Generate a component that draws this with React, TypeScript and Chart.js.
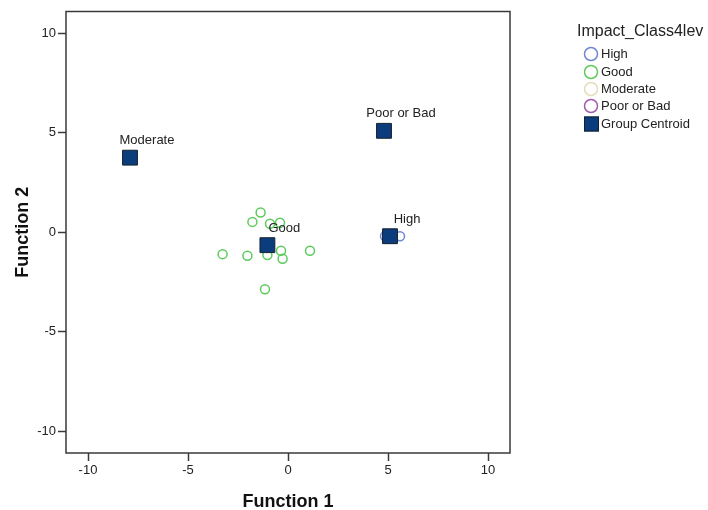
import React, { useEffect, useRef } from "react";
import { Chart, registerables } from "chart.js";

Chart.register(...registerables);

// Discriminant scores per group (Function 1, Function 2)
const highX = [4.85, 5.6];
const highY = [-0.2, -0.2];

const goodX = [-1.37, -1.78, -0.9, -0.4, -3.27, -2.03, -1.03, -0.35, -0.27, 1.1, -1.15];
const goodY = [0.99, 0.52, 0.43, 0.48, -1.1, -1.18, -1.15, -0.93, -1.33, -0.93, -2.87];

const moderateX = [-7.9];
const moderateY = [3.75];

const poorX = [4.8];
const poorY = [5.1];

// Group centroids
const centroidLabels = ["High", "Good", "Moderate", "Poor or Bad"];
const centroidX = [5.1, -1.03, -7.9, 4.8];
const centroidY = [-0.2, -0.65, 3.75, 5.1];

const tickValues = [-10, -5, 0, 5, 10];

const legendTitle = "Impact_Class4lev";
const legendItems = ["High", "Good", "Moderate", "Poor or Bad", "Group Centroid"];

const FONT = "'Liberation Sans', Arial, sans-serif";
const COLORS = {
  high: "#7085d4",
  good: "#5ccb5c",
  moderate: "#e4ddbb",
  poor: "#a35aaf",
  centroid: "#0b3d7c",
  centroidBorder: "#15202e",
  axis: "#3a3a3a",
  text: "#222222",
};

const toPoints = (xs: number[], ys: number[]) => xs.map((x, i) => ({ x, y: ys[i] }));

// Box around the plotting area
const framePlugin = {
  id: "frame",
  beforeDatasetsDraw(chart: any) {
    const { ctx, chartArea } = chart;
    ctx.save();
    ctx.strokeStyle = COLORS.axis;
    ctx.lineWidth = 1.5;
    ctx.strokeRect(chartArea.left, chartArea.top, chartArea.right - chartArea.left, chartArea.bottom - chartArea.top);
    ctx.restore();
  },
};

const centroidLabelPlugin = {
  id: "centroidLabels",
  afterDatasetsDraw(chart: any) {
    const { ctx } = chart;
    const meta = chart.getDatasetMeta(0);
    ctx.save();
    ctx.font = `13px ${FONT}`;
    ctx.fillStyle = COLORS.text;
    ctx.textAlign = "center";
    ctx.textBaseline = "middle";
    meta.data.forEach((el: any, i: number) => {
      ctx.fillText(centroidLabels[i], el.x + 17, el.y - 17);
    });
    ctx.restore();
  },
};

const legendPlugin = {
  id: "sideLegend",
  afterDraw(chart: any) {
    const { ctx } = chart;
    ctx.save();
    ctx.fillStyle = COLORS.text;
    ctx.textBaseline = "middle";
    ctx.textAlign = "left";
    ctx.font = `16px ${FONT}`;
    ctx.fillText(legendTitle, 577, 32);
    const ys = [54, 72, 89, 106, 124];
    const ringColors = [COLORS.high, COLORS.good, COLORS.moderate, COLORS.poor];
    ctx.font = `13px ${FONT}`;
    legendItems.forEach((label, i) => {
      const y = ys[i];
      if (i < 4) {
        ctx.beginPath();
        ctx.arc(591, y, 6.5, 0, Math.PI * 2);
        ctx.strokeStyle = ringColors[i];
        ctx.lineWidth = 1.5;
        ctx.stroke();
      } else {
        ctx.fillStyle = COLORS.centroid;
        ctx.fillRect(584, y - 7.5, 15, 15);
        ctx.strokeStyle = COLORS.centroidBorder;
        ctx.lineWidth = 1;
        ctx.strokeRect(584.5, y - 7, 14, 14);
      }
      ctx.fillStyle = COLORS.text;
      ctx.fillText(label, 601, y + 0.5);
    });
    ctx.restore();
  },
};

export default function App() {
  const canvasRef = useRef<HTMLCanvasElement | null>(null);

  useEffect(() => {
    if (!canvasRef.current) return;
    const ring = (color: string) => ({
      pointStyle: "circle" as const,
      pointRadius: 4.5,
      pointBorderWidth: 1.5,
      pointBorderColor: color,
      pointBackgroundColor: "rgba(0,0,0,0)",
      borderColor: color,
      backgroundColor: "rgba(0,0,0,0)",
    });

    const tickAxis = (title: string, isX: boolean) => ({
      type: "linear" as const,
      min: -11.1,
      max: 11.1,
      afterBuildTicks: (s: any) => {
        s.ticks = tickValues.map((v) => ({ value: v }));
      },
      afterFit: (s: any) => {
        if (isX) s.height = 57;
        else s.width = 66;
      },
      grid: {
        drawOnChartArea: false,
        drawTicks: true,
        tickLength: 8,
        tickColor: COLORS.axis,
        tickWidth: 1.5,
      },
      border: { display: false },
      ticks: {
        font: { family: FONT, size: 13 },
        color: COLORS.text,
        padding: 2,
      },
      title: {
        display: true,
        text: title,
        color: "#111111",
        font: { family: FONT, size: 18, weight: "bold" as const, lineHeight: 1 },
        padding: isX ? { top: 0, bottom: -1 } : { top: 14, bottom: 0 },
      },
    });

    const chart = new Chart(canvasRef.current, {
      type: "scatter",
      data: {
        datasets: [
          {
            label: "Group Centroid",
            data: toPoints(centroidX, centroidY),
            order: 0,
            pointStyle: "rect",
            pointRadius: 10.5,
            pointBorderWidth: 1,
            pointBackgroundColor: COLORS.centroid,
            pointBorderColor: COLORS.centroidBorder,
            backgroundColor: COLORS.centroid,
            borderColor: COLORS.centroidBorder,
          },
          { label: "High", data: toPoints(highX, highY), order: 1, ...ring(COLORS.high) },
          { label: "Good", data: toPoints(goodX, goodY), order: 2, ...ring(COLORS.good) },
          { label: "Moderate", data: toPoints(moderateX, moderateY), order: 3, ...ring(COLORS.moderate) },
          { label: "Poor or Bad", data: toPoints(poorX, poorY), order: 4, ...ring(COLORS.poor) },
        ],
      },
      options: {
        animation: false,
        responsive: false,
        maintainAspectRatio: false,
        layout: { padding: { left: 0, top: 11, right: 198, bottom: 0 } },
        plugins: {
          legend: { display: false },
          tooltip: { enabled: false },
        },
        scales: {
          x: tickAxis("Function 1", true),
          y: tickAxis("Function 2", false),
        },
      },
      plugins: [framePlugin, centroidLabelPlugin, legendPlugin],
    });
    return () => chart.destroy();
  }, []);

  return (
    <div style={{ position: "absolute", left: 0, top: 0, width: 708, height: 510, background: "#ffffff" }}>
      <canvas ref={canvasRef} width={708} height={510} />
    </div>
  );
}
